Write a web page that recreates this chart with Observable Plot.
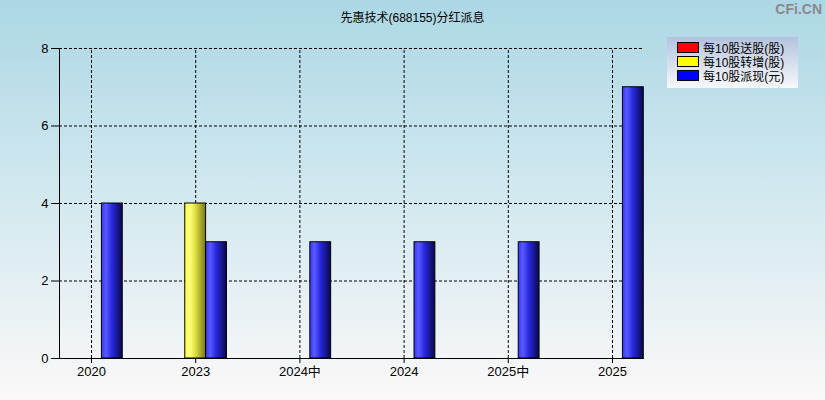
<!DOCTYPE html>
<html><head><meta charset="utf-8">
<script src="https://cdn.jsdelivr.net/npm/d3@7"></script>
<script src="https://cdn.jsdelivr.net/npm/@observablehq/plot@0.6"></script>
<style>
body{margin:0;}
#wrap{position:relative;width:825px;height:400px;background:linear-gradient(to bottom,#acd7e5 0%,#d3e9f0 50%,#fbf8f8 100%);font-family:"Liberation Sans","Noto Sans CJK SC",sans-serif;overflow:hidden;}
#title{position:absolute;left:0;width:825px;top:10px;text-align:center;font-size:12px;color:#000;line-height:16px;}
#wm{position:absolute;right:3px;top:1px;font-size:14px;font-weight:bold;color:#8a8a8a;}
#legend{position:absolute;left:667px;top:37px;width:131px;height:51px;background:linear-gradient(to bottom,#b3c3de,#f7f8fb);font-size:12px;color:#000;}
.row{position:absolute;left:10px;height:14px;display:flex;align-items:center;}
.sw{width:20px;height:9px;border:1px solid #000;margin-right:4px;}
#chart{position:absolute;left:0;top:0;}
</style>
</head><body>
<div id="wrap">
<div id="chart"></div>
<div id="title">先惠技术(688155)分红派息</div>
<div id="wm">CFi.CN</div>
<div id="legend"></div>
</div>
<script>
const categories = ["2020","2023","2024中","2024","2025中","2025"];
const songgu = [0,0,0,0,0,0];        // 每10股送股(股)
const zhuanzeng = [0,4,0,0,0,0];     // 每10股转增(股)
const paixian = [4,3,3,3,3,7];       // 每10股派现(元)
const seriesNames = ["每10股送股(股)","每10股转增(股)","每10股派现(元)"];
const legendColors = ["#ff0000","#ffff00","#0000ff"];
const seriesFills = ["url(#gRed)","url(#gYellow)","url(#gBlue)"];
const yTicks = [0,2,4,6,8];

const bw = 0.2;
const rows = [];
[songgu, zhuanzeng, paixian].forEach((arr, s) => arr.forEach((v, i) => {
  if (v > 0) rows.push({i, s, v, x1: i + (s - 1) * bw - bw / 2, x2: i + (s - 1) * bw + bw / 2});
}));
const idx = d3.range(categories.length);
const xmin = -0.307, xmax = categories.length - 1 + 0.307;

const plot = Plot.plot({
  width: 825, height: 400,
  marginLeft: 59, marginRight: 181, marginTop: 48, marginBottom: 42,
  style: {background: "transparent", fontFamily: '"Liberation Sans","Noto Sans CJK SC",sans-serif', fontSize: "13px", color: "#000", overflow: "visible"},
  x: {type: "linear", domain: [xmin, xmax], axis: null},
  y: {domain: [0, 8], axis: null},
  marks: [
    Plot.ruleY([2, 4, 6, 8], {stroke: "#000", strokeDasharray: "3,2", strokeOpacity: 1}),
    Plot.ruleX(idx, {y1: 0, y2: 8, stroke: "#000", strokeDasharray: "3,2", strokeOpacity: 1}),
    ...[0, 1, 2].map(s => Plot.rect(rows.filter(d => d.s === s), {
      x1: "x1", x2: "x2", y1: 0, y2: "v", fill: seriesFills[s], stroke: "#000", strokeWidth: 1
    })),
    Plot.axisY({ticks: yTicks, tickSize: 8, tickPadding: 3, tickFormat: d => d, fontSize: 13, strokeOpacity: 1, label: null}),
    Plot.axisX({ticks: idx, tickSize: 5, tickPadding: 3, tickFormat: i => categories[i], fontSize: 13, strokeOpacity: 1, label: null}),
    Plot.ruleX([xmin], {y1: 0, y2: 8, stroke: "#000", strokeOpacity: 1}),
    Plot.ruleY([0], {stroke: "#000", strokeOpacity: 1})
  ]
});

const svg = d3.select(plot);
const defs = svg.insert("defs", ":first-child");
function grad(id, stops) {
  const g = defs.append("linearGradient").attr("id", id).attr("x1", "0").attr("x2", "1").attr("y1", "0").attr("y2", "0");
  stops.forEach(([o, c]) => g.append("stop").attr("offset", o).attr("stop-color", c));
}
grad("gBlue", [[0, "#3535ff"], [0.22, "#5a5aff"], [0.5, "#2828e0"], [1, "#08084a"]]);
grad("gYellow", [[0, "#ffff40"], [0.25, "#ffff80"], [0.5, "#e0e040"], [1, "#77771c"]]);
grad("gRed", [[0, "#ff3030"], [0.25, "#ff8080"], [0.5, "#e04040"], [1, "#701010"]]);
document.getElementById("chart").appendChild(plot);

const lg = document.getElementById("legend");
seriesNames.forEach((n, k) => {
  const r = document.createElement("div");
  r.className = "row";
  r.style.top = (3 + k * 14) + "px";
  r.innerHTML = `<div class="sw" style="background:${legendColors[k]}"></div><span>${n}</span>`;
  lg.appendChild(r);
});
</script>
</body></html>
